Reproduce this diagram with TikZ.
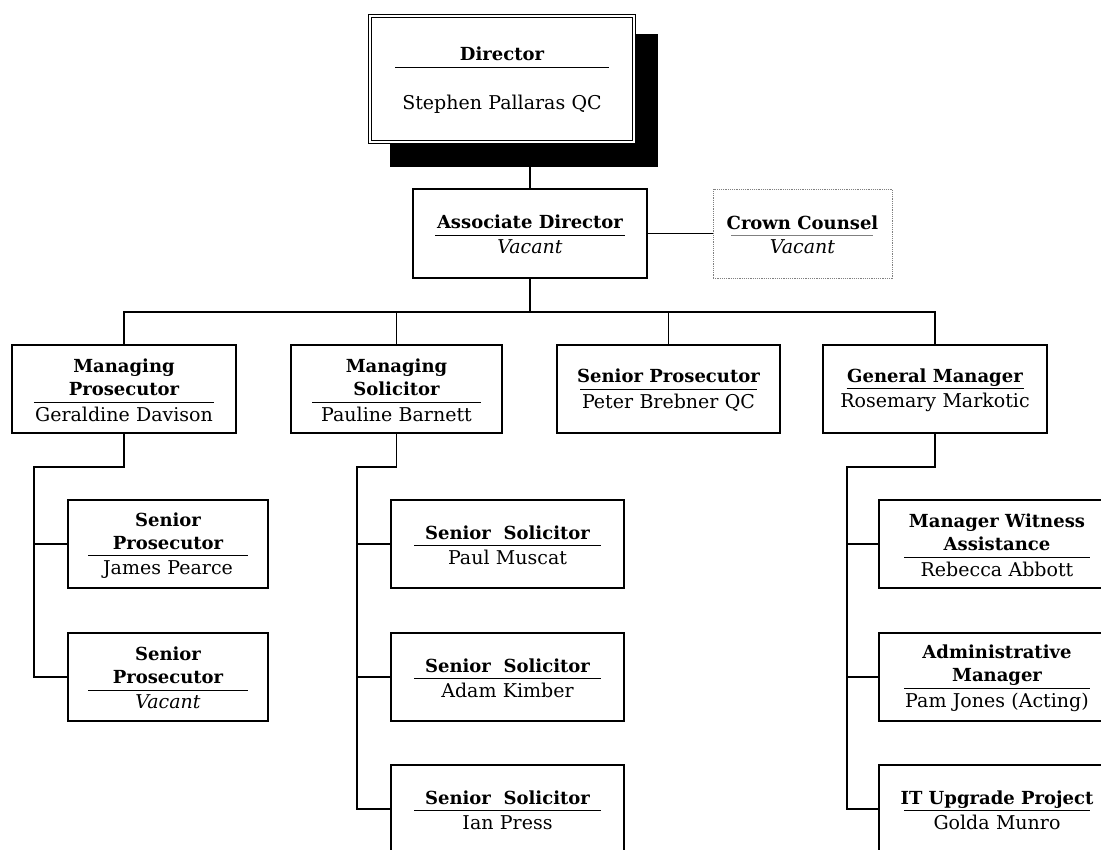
\documentclass[tikz,border=0pt]{standalone}
\usepackage{fontspec}
\setmainfont{DejaVu Serif}
\usetikzlibrary{calc,backgrounds}

\tikzset{
  postbox/.style={draw, line width=1.2pt, fill=white, inner sep=0pt, align=center, minimum height=88pt},
  link/.style={line width=1.2pt},
  trunk/.style={line width=1.8pt},
}
\newcommand{\orgtitle}[1]{\hbox to\hsize{\hss\fontsize{18}{23}\selectfont\bfseries\begin{tabular}{@{}c@{}}#1\end{tabular}\hss}\par}
\newcommand{\orgpost}[3][4pt]{\orgtitle{#2}\vspace{-1pt}\hrule height 1.1pt\vspace{#1}\hbox to\hsize{\hss#3\hss}}

\begin{document}
\begin{tikzpicture}[x=1pt,y=-1pt,font=\fontsize{19}{23}\selectfont]
        \useasboundingbox (0,0) rectangle (1101,850);
        \clip (0,0) rectangle (1101,850);
        \coordinate (bus) at (0,312);
        \coordinate (lspine) at (34,467);
        \coordinate (mspine) at (357,467);
        \coordinate (rspine) at (847,467);
        % top
        \node[postbox, double, double distance=2.5pt, line width=0.8pt, minimum width=264pt, minimum height=126pt, text width=214pt] (dir) at (502,79) {\orgpost[27pt]{Director}{Stephen Pallaras QC}};
        \coordinate (shd) at ($(dir.south east)+(24,25)$);
        \begin{scope}[on background layer]
            \fill ($(dir.north west)+(20,18)$) rectangle (shd);
        \end{scope}
        \node[postbox, minimum width=234pt, minimum height=89pt, text width=190pt] (asd) at (530,233.5) {\orgpost{Associate Director}{\textit{Vacant}}};
        \node[postbox, draw=gray, densely dotted, line width=0.8pt, minimum width=179pt, minimum height=89pt, text width=143pt] (crc) at (802.5,233.5) {\orgtitle{Crown Counsel}\vspace{-1pt}\nointerlineskip\hbox to\hsize{\color{gray}\leaders\hbox to 2pt{\hss\vrule width 1.2pt height 0.8pt\hss}\hfill}\nointerlineskip\vspace{4pt}\textit{Vacant}};
        % second row
        \node[postbox, minimum width=224pt, text width=180pt] (mp) at (124,389) {\orgpost{Managing\\Prosecutor}{Geraldine Davison}};
        \node[postbox, minimum width=211pt, text width=169pt] (ms) at (396.5,389) {\orgpost{Managing\\Solicitor}{Pauline Barnett}};
        \node[postbox, minimum width=223pt, text width=177pt] (sp) at (668.5,389) {\orgpost{Senior Prosecutor}{Peter Brebner QC}};
        \node[postbox, minimum width=224pt, text width=177pt] (gm) at (935,389) {\orgpost{General Manager}{Rosemary Markotic}};
        % third row
        \node[postbox, minimum width=200pt, text width=160pt] (lp1) at (168,544) {\orgpost{Senior\\Prosecutor}{James Pearce}};
        \node[postbox, minimum width=200pt, text width=160pt] (lp2) at (168,677) {\orgpost{Senior\\Prosecutor}{\textit{Vacant}}};
        \node[postbox, minimum width=233pt, text width=187pt] (ms1) at (507.5,544) {\orgpost{Senior~ Solicitor}{Paul Muscat}};
        \node[postbox, minimum width=233pt, text width=187pt] (ms2) at (507.5,677) {\orgpost{Senior~ Solicitor}{Adam Kimber}};
        \node[postbox, minimum width=233pt, text width=187pt] (ms3) at (507.5,809) {\orgpost{Senior~ Solicitor}{Ian Press}};
        \node[postbox, minimum width=236pt, text width=186pt] (gm1) at (997,544) {\orgpost{Manager Witness\\Assistance}{Rebecca Abbott}};
        \node[postbox, minimum width=236pt, text width=186pt] (gm2) at (997,677) {\orgpost{Administrative\\Manager}{Pam Jones (Acting)}};
        \node[postbox, minimum width=236pt, text width=186pt] (gm3) at (997,809) {\orgpost{IT Upgrade Project}{Golda Munro}};
        % lines
        \draw[link] (asd.north) -- (asd.north |- shd);
        \draw[link] (asd) -- (crc);
        \draw[trunk] (asd.south) -- (asd.south |- bus);
        \draw[link] (mp.north) |- (bus -| gm.north) -- (gm.north);
        \draw[link] (ms.north) -- (ms.north |- bus);
        \draw[link] (sp.north) -- (sp.north |- bus);
        \draw[link] (mp.south) |- (lspine) |- (lp2.west);
        \draw[link] (lspine |- lp1) -- (lp1.west);
        \draw[link] (ms.south) |- (mspine) |- (ms3.west);
        \draw[link] (mspine |- ms1) -- (ms1.west);
        \draw[link] (mspine |- ms2) -- (ms2.west);
        \draw[link] (gm.south) |- (rspine) |- (gm3.west);
        \draw[link] (rspine |- gm1) -- (gm1.west);
        \draw[link] (rspine |- gm2) -- (gm2.west);
\end{tikzpicture}
\end{document}
